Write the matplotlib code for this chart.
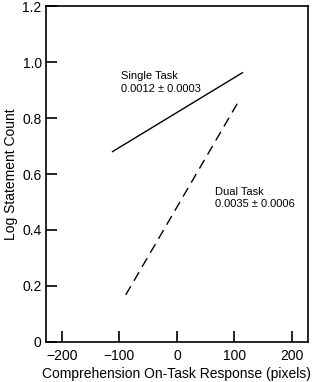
import matplotlib
matplotlib.use('Agg')
import matplotlib.pyplot as plt

plt.rcParams['font.family'] = ['Liberation Sans', 'DejaVu Sans']

# fitted lines
single_x = [-112, 114]
single_y = [0.68, 0.962]
dual_x = [-89, 108]
dual_y = [0.168, 0.862]

xticks = [-200, -100, 0, 100, 200]
yticks = [0, 0.2, 0.4, 0.6, 0.8, 1.0, 1.2]
yticklabels = ['0', '0.2', '0.4', '0.6', '0.8', '1.0', '1.2']

fig = plt.figure(figsize=(3.12, 3.82), dpi=100)
ax = fig.add_axes([0.147, 0.105, 0.840, 0.879])

ax.plot(single_x, single_y, color='black', lw=1.0)
ax.plot(dual_x, dual_y, color='black', lw=1.0, dashes=(7.2, 4.5))

ax.text(-97, 0.967, 'Single Task\n0.0012 \u00b1 0.0003', fontsize=8,
        va='top', ha='left', linespacing=1.35)
ax.text(66, 0.555, 'Dual Task\n0.0035 \u00b1 0.0006', fontsize=8,
        va='top', ha='left', linespacing=1.35)

ax.set_xlim(-228, 228)
ax.set_ylim(0, 1.2)
ax.set_xticks(xticks)
ax.set_xticklabels([str(t).replace('-', '\u2212') for t in xticks])
ax.set_yticks(yticks)
ax.set_yticklabels(yticklabels)
ax.tick_params(direction='in', length=8, width=1.2, labelsize=10)
ax.tick_params(axis='x', pad=5)
ax.tick_params(axis='y', pad=3)
for s in ax.spines.values():
    s.set_linewidth(1.2)

ax.set_xlabel('Comprehension On-Task Response (pixels)', fontsize=10, labelpad=3)
ax.set_ylabel('Log Statement Count', fontsize=10, labelpad=3)

fig.savefig('out.png', dpi=100)
